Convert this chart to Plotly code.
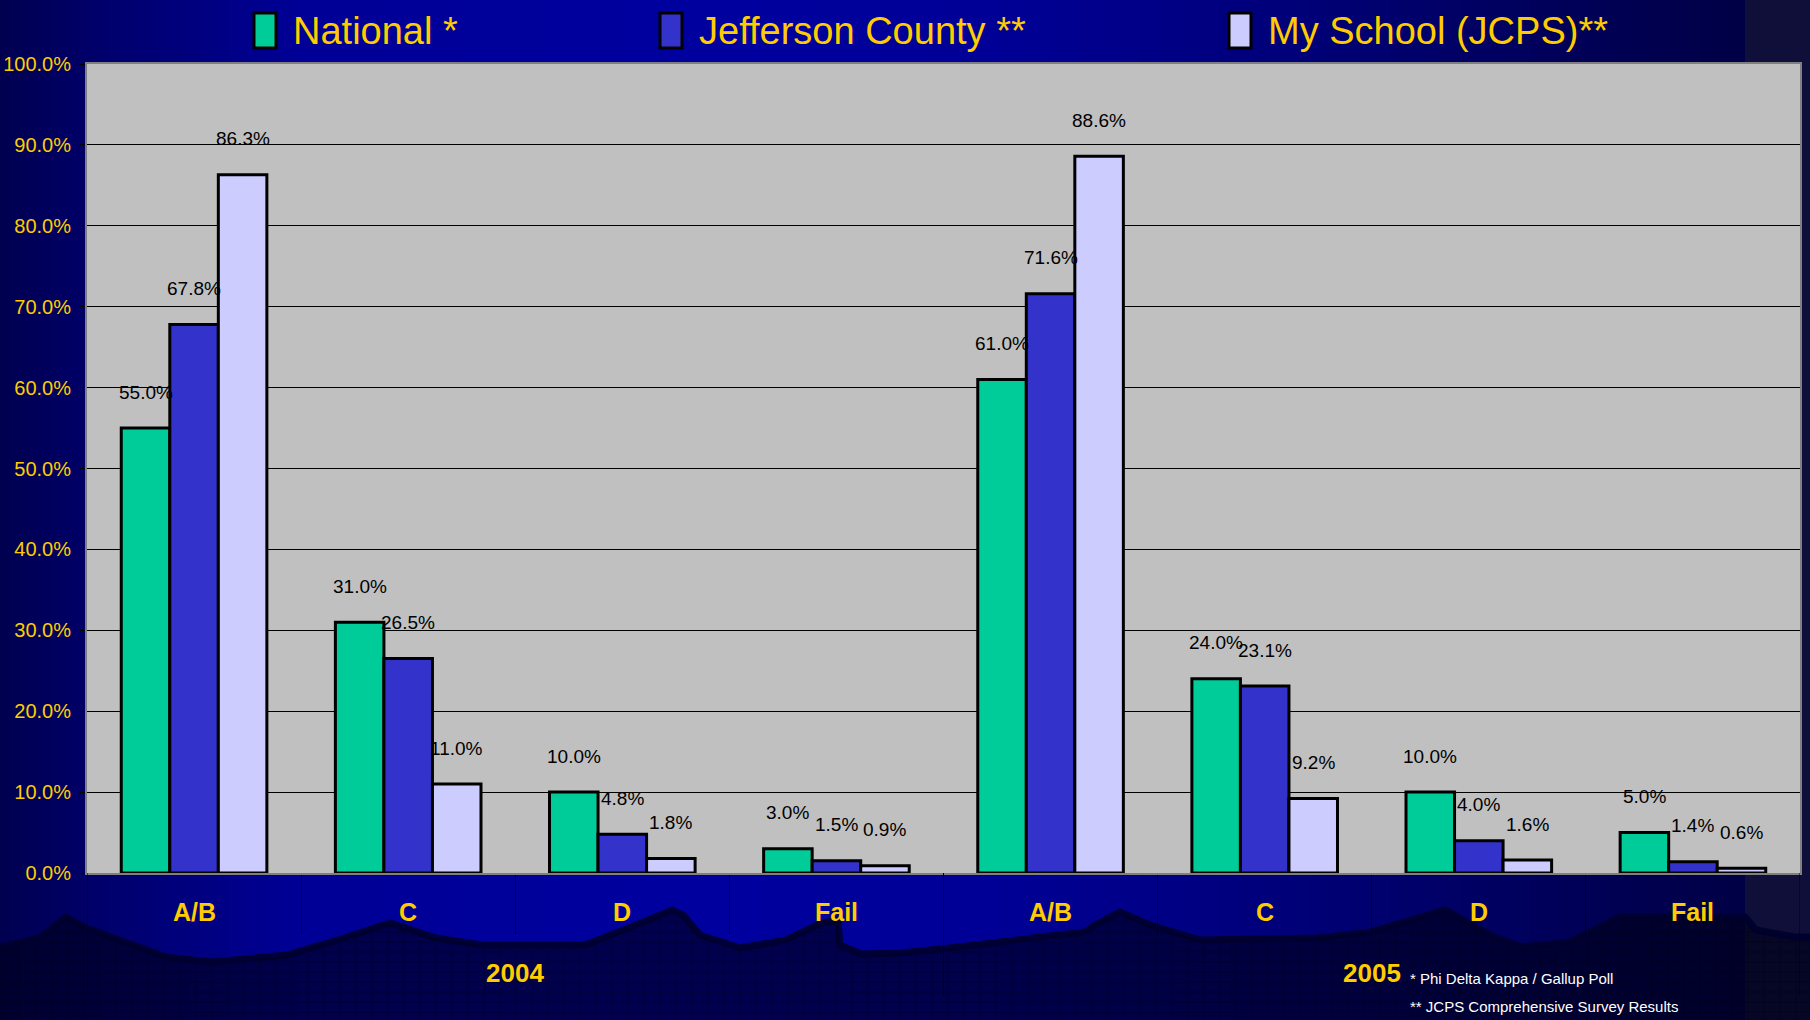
import numpy as np
import plotly.graph_objects as go

# ---------------- data ----------------
years = ["2004", "2005"]
grades = ["A/B", "C", "D", "Fail"]
series_names = ["National *", "Jefferson County **", "My School (JCPS)**"]
national = [55.0, 31.0, 10.0, 3.0, 61.0, 24.0, 10.0, 5.0]
jefferson = [67.8, 26.5, 4.8, 1.5, 71.6, 23.1, 4.0, 1.4]
my_school = [86.3, 11.0, 1.8, 0.9, 88.6, 9.2, 1.6, 0.6]
y_ticks = [0, 10, 20, 30, 40, 50, 60, 70, 80, 90, 100]
footnotes = ["* Phi Delta Kappa / Gallup Poll", "** JCPS Comprehensive Survey Results"]

series_values = [national, jefferson, my_school]
colors = ["#00CC99", "#3333CC", "#CCCCFF"]

# ---------------- geometry helpers ----------------
W, H = 1810, 1020
L, R, T, B = 87, 10, 64, 147
PW, PH = W - L - R, H - T - B
GOLD = "#FFCC00"
NARROW = "Liberation Sans Narrow, Arial Narrow, Liberation Sans, Arial, sans-serif"
BOLD = "Liberation Sans, Arial, sans-serif"


def px(x):
    return (x - L) / PW


def py(y):
    return (H - B - y) / PH


def path_from(points, close=False):
    s = "M " + " L ".join(f"{px(x):.5f},{py(y):.5f}" for x, y in points)
    return s + (" Z" if close else "")


n_groups = len(years) * len(grades)
xs = list(range(n_groups))
bargap = 0.32
bw = (1 - bargap) / len(series_names)

fig = go.Figure()
for name, vals, col in zip(series_names, series_values, colors):
    fig.add_trace(go.Bar(
        x=xs, y=vals, name=name, showlegend=False,
        marker=dict(color=col, line=dict(color="black", width=3)),
        hovertemplate="%{y:.1f}%<extra>" + name + "</extra>",
    ))

shapes = []
# ---- background gradient ----
stops_x = [0, 90, 300, 700, 1000, 1300, 1600, 1745]
stops_b = [80, 105, 150, 160, 150, 120, 85, 70]
step = 10
for x0 in range(0, 1745, step):
    b = int(np.interp(x0 + step / 2, stops_x, stops_b))
    shapes.append(dict(type="rect", xref="paper", yref="paper", layer="below",
                       x0=px(x0), x1=px(min(x0 + step + 1, 1745)), y0=py(H), y1=py(0),
                       fillcolor=f"rgb(0,0,{b})", line=dict(width=0)))
shapes.append(dict(type="rect", xref="paper", yref="paper", layer="below",
                   x0=px(1745), x1=px(W), y0=py(H), y1=py(0),
                   fillcolor="rgb(15,15,58)", line=dict(width=0)))

# ---- wave (lower decoration) ----
wave = [(0, 947), (40, 938), (66, 917), (86, 928), (166, 957), (212, 962), (287, 955),
        (344, 938), (390, 923), (436, 938), (482, 945), (585, 945), (631, 927), (672, 910),
        (683, 915), (700, 935), (740, 948), (786, 940), (821, 923), (838, 920), (840, 945),
        (861, 954), (900, 953), (950, 948), (1000, 942), (1050, 936), (1085, 932), (1095, 925),
        (1120, 912), (1150, 925), (1200, 940), (1317, 938), (1371, 932), (1445, 910),
        (1472, 925), (1496, 938), (1523, 947), (1570, 942), (1620, 917), (1745, 917),
        (1756, 930), (1795, 937), (1810, 937)]
fill_pts = wave + [(W, H), (0, H)]
shapes.append(dict(type="path", xref="paper", yref="paper", layer="below",
                   path=path_from(fill_pts, close=True),
                   fillcolor="rgba(0,0,25,0.6)", line=dict(width=0)))
# texture grid below the wave
wx = np.array([p[0] for p in wave], float)
wy = np.array([p[1] for p in wave], float)
grid_parts = []
for gx in range(4, W, 16):
    y_top = float(np.interp(gx, wx, wy)) + 4
    grid_parts.append(f"M {px(gx):.5f},{py(y_top):.5f} L {px(gx):.5f},{py(H):.5f}")
samp = np.arange(0, W + 1, 2)
samp_wy = np.interp(samp, wx, wy)
for gy in range(912, H, 10):
    mask = samp_wy + 4 < gy
    start = None
    for i, m in enumerate(mask):
        if m and start is None:
            start = samp[i]
        if (not m or i == len(mask) - 1) and start is not None:
            end = samp[i]
            grid_parts.append(f"M {px(start):.5f},{py(gy):.5f} L {px(end):.5f},{py(gy):.5f}")
            start = None
shapes.append(dict(type="path", xref="paper", yref="paper", layer="below",
                   path=" ".join(grid_parts), line=dict(color="rgba(0,0,0,0.28)", width=1)))
shapes.append(dict(type="path", xref="paper", yref="paper", layer="below",
                   path=path_from(wave), line=dict(color="rgba(0,0,45,0.9)", width=7)))

# ---- plot area background ----
shapes.append(dict(type="rect", xref="paper", yref="paper", layer="below",
                   x0=0, x1=1, y0=0, y1=1, fillcolor="#C0C0C0", line=dict(width=0)))

# ---- long dividers between year groups ----
for xv in [-0.5, len(grades) - 0.5, n_groups - 0.5]:
    shapes.append(dict(type="line", xref="x", yref="paper", layer="above",
                       x0=xv, x1=xv, y0=0, y1=py(995), line=dict(color="black", width=1)))

# ---- manual legend swatches ----
legend_swatch_x = [254, 660, 1229]
legend_text_x = [291, 697, 1266]
for sx, col in zip(legend_swatch_x, colors):
    shapes.append(dict(type="rect", xref="paper", yref="paper", layer="above",
                       x0=px(sx), x1=px(sx + 22), y0=py(48), y1=py(13),
                       fillcolor=col, line=dict(color="black", width=3)))

annotations = []
for tx, name in zip(legend_text_x, series_names):
    annotations.append(dict(xref="paper", yref="paper", x=px(tx), y=py(31), text=name,
                            xanchor="left", yanchor="middle", showarrow=False,
                            font=dict(family=NARROW, size=38, color=GOLD)))

# data labels
for k, vals in enumerate(series_values):
    off = (k - (len(series_values) - 1) / 2) * bw
    for i, v in zip(xs, vals):
        annotations.append(dict(x=i + off, y=v, xref="x", yref="y", text=f"{v:.1f}%",
                                yshift=36, showarrow=False, yanchor="middle",
                                font=dict(family=NARROW, size=19, color="black")))

# category labels
for i in xs:
    annotations.append(dict(x=i, y=py(912), xref="x", yref="paper", text=grades[i % len(grades)],
                            showarrow=False, yanchor="middle",
                            font=dict(family=BOLD, size=25, color=GOLD, weight="bold")))
# year labels
for j, yr in enumerate(years):
    annotations.append(dict(x=j * len(grades) + (len(grades) - 1) / 2, y=py(973), xref="x", yref="paper",
                            text=yr, showarrow=False, yanchor="middle",
                            font=dict(family=BOLD, size=26, color=GOLD, weight="bold")))
# footnotes
for j, fn in enumerate(footnotes):
    annotations.append(dict(x=px(1408), y=py(978 + 28 * j), xref="paper", yref="paper", text=fn,
                            xanchor="left", yanchor="middle", showarrow=False,
                            font=dict(family=NARROW, size=15, color="white")))

short_ticks = [i + 0.5 for i in range(n_groups - 1) if (i + 1) % len(grades) != 0]

fig.update_layout(
    width=W, height=H,
    margin=dict(l=L, r=R, t=T, b=B, autoexpand=False),
    paper_bgcolor="#000080",
    plot_bgcolor="rgba(0,0,0,0)",
    barmode="group", bargap=bargap, bargroupgap=0,
    showlegend=False,
    shapes=shapes,
    annotations=annotations,
    xaxis=dict(range=[-0.5, n_groups - 0.5], showgrid=False, zeroline=False,
               tickmode="array", tickvals=short_ticks, showticklabels=False,
               ticks="outside", ticklen=60, tickcolor="black", tickwidth=1,
               showline=True, linecolor="#808080", linewidth=2, mirror=True),
    yaxis=dict(range=[0, 100], tickmode="array", tickvals=y_ticks,
               ticktext=[f"{t:.1f}%" for t in y_ticks],
               tickfont=dict(family=NARROW, size=20, color=GOLD),
               ticklabelstandoff=5,
               showgrid=True, gridcolor="black", gridwidth=1, zeroline=False,
               ticks="outside", ticklen=5, tickcolor="black",
               showline=True, linecolor="#808080", linewidth=2, mirror=True),
)

fig.write_html(
    "out.html",
    config={"displayModeBar": False},
    post_script="document.body.style.margin='0';document.body.style.overflow='hidden';"
                "document.body.style.background='#000080';",
)
